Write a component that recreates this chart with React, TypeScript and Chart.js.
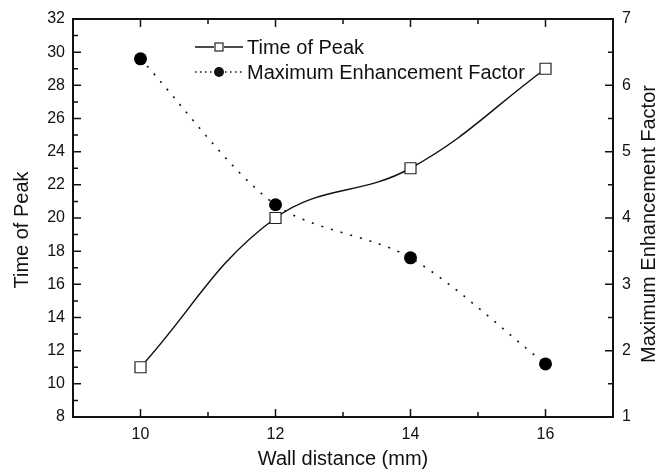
import React, { useEffect, useRef } from 'react';
import { Chart, registerables } from 'chart.js';

Chart.register(...registerables);

const wallDistance = [10, 12, 14, 16];
const timeOfPeak = [11, 20, 23, 29];
const maxEnhancement = [6.4, 4.2, 3.4, 1.8];

const xTicks = [10, 12, 14, 16];
const xMinorTicks = [11, 13, 15];
const leftTicks = [8, 10, 12, 14, 16, 18, 20, 22, 24, 26, 28, 30, 32];
const rightTicks = [1, 2, 3, 4, 5, 6, 7];

const seriesNames = ['Time of Peak', 'Maximum Enhancement Factor'];
const xTitle = 'Wall distance (mm)';
const leftTitle = 'Time of Peak';
const rightTitle = 'Maximum Enhancement Factor';

const FONT = "'Liberation Sans', Arial, Helvetica, sans-serif";
const INK = '#111111';

const decorPlugin = {
  id: 'decor',
  afterDraw(chart: any) {
    const { ctx, chartArea } = chart;
    const { left, right, top, bottom } = chartArea;
    const xs = chart.scales.x;
    const yl = chart.scales.y;
    const yr = chart.scales.y1;
    ctx.save();
    ctx.strokeStyle = INK;
    ctx.lineWidth = 2;
    ctx.setLineDash([]);
    ctx.strokeRect(left, top, right - left, bottom - top);

    const MAJ = 8;
    const MIN = 5;
    ctx.lineWidth = 1.5;
    ctx.beginPath();
    const vtick = (v: number, len: number) => {
      const px = xs.getPixelForValue(v);
      ctx.moveTo(px, bottom);
      ctx.lineTo(px, bottom - len);
      ctx.moveTo(px, top);
      ctx.lineTo(px, top + len);
    };
    xTicks.forEach((v) => vtick(v, MAJ));
    xMinorTicks.forEach((v) => vtick(v, MIN));

    const mids = (arr: number[]) => arr.slice(1).map((v, i) => (v + arr[i]) / 2);
    leftTicks.forEach((v) => {
      const py = yl.getPixelForValue(v);
      ctx.moveTo(left, py);
      ctx.lineTo(left + MAJ, py);
    });
    mids(leftTicks).forEach((v) => {
      const py = yl.getPixelForValue(v);
      ctx.moveTo(left, py);
      ctx.lineTo(left + MIN, py);
    });
    rightTicks.forEach((v) => {
      const py = yr.getPixelForValue(v);
      ctx.moveTo(right, py);
      ctx.lineTo(right - MAJ, py);
    });
    mids(rightTicks).forEach((v) => {
      const py = yr.getPixelForValue(v);
      ctx.moveTo(right, py);
      ctx.lineTo(right - MIN, py);
    });
    ctx.stroke();

    // vertical axis titles (read bottom to top)
    ctx.fillStyle = INK;
    ctx.font = `20px ${FONT}`;
    ctx.textAlign = 'center';
    ctx.textBaseline = 'alphabetic';
    ctx.save();
    ctx.translate(28, (top + bottom) / 2 + 12);
    ctx.rotate(-Math.PI / 2);
    ctx.fillText(leftTitle, 0, 0);
    ctx.restore();
    ctx.save();
    ctx.translate(655, (top + bottom) / 2 + 6);
    ctx.rotate(-Math.PI / 2);
    ctx.fillText(rightTitle, 0, 0);
    ctx.restore();

    // legend
    const lx0 = left + 122;
    const lx1 = left + 170;
    const lmid = (lx0 + lx1) / 2;
    const row1 = top + 28;
    const row2 = top + 53;
    ctx.lineWidth = 1.3;
    ctx.beginPath();
    ctx.moveTo(lx0, row1);
    ctx.lineTo(lmid - 5, row1);
    ctx.moveTo(lmid + 5, row1);
    ctx.lineTo(lx1, row1);
    ctx.stroke();
    ctx.fillStyle = '#ffffff';
    ctx.lineWidth = 1.1;
    ctx.fillRect(lmid - 4, row1 - 4, 8, 8);
    ctx.strokeRect(lmid - 4, row1 - 4, 8, 8);

    ctx.lineWidth = 1.5;
    ctx.setLineDash([1.5, 3.5]);
    ctx.beginPath();
    ctx.moveTo(lx0, row2);
    ctx.lineTo(lx1, row2);
    ctx.stroke();
    ctx.setLineDash([]);
    ctx.fillStyle = INK;
    ctx.beginPath();
    ctx.arc(lmid, row2, 5, 0, Math.PI * 2);
    ctx.fill();

    ctx.fillStyle = INK;
    ctx.font = `20px ${FONT}`;
    ctx.textAlign = 'left';
    ctx.textBaseline = 'middle';
    ctx.fillText(seriesNames[0], lx1 + 4, row1 + 1);
    ctx.fillText(seriesNames[1], lx1 + 4, row2 + 1);
    ctx.restore();
  },
};

export default function App() {
  const ref = useRef<HTMLCanvasElement | null>(null);

  useEffect(() => {
    if (!ref.current) return;
    const chart = new Chart(ref.current, {
      type: 'line',
      data: {
        datasets: [
          {
            label: seriesNames[0],
            data: wallDistance.map((x, i) => ({ x, y: timeOfPeak[i] })),
            yAxisID: 'y',
            borderColor: INK,
            borderWidth: 1.5,
            tension: 0.4,
            pointStyle: 'rect',
            pointRadius: 7.8,
            pointBackgroundColor: '#ffffff',
            pointBorderColor: '#222222',
            pointBorderWidth: 1.2,
            fill: false,
          },
          {
            label: seriesNames[1],
            data: wallDistance.map((x, i) => ({ x, y: maxEnhancement[i] })),
            yAxisID: 'y1',
            borderColor: INK,
            borderWidth: 1.6,
            borderDash: [2, 8],
            tension: 0.3,
            pointStyle: 'circle',
            pointRadius: 6.5,
            pointBackgroundColor: '#000000',
            pointBorderColor: '#000000',
            pointBorderWidth: 0,
            fill: false,
          },
        ],
      } as any,
      options: {
        animation: false,
        responsive: false,
        devicePixelRatio: 1,
        layout: { padding: { top: 19, left: 0, right: 0, bottom: 0 } },
        plugins: {
          legend: { display: false },
          tooltip: { enabled: false },
        },
        scales: {
          x: {
            type: 'linear',
            min: 9,
            max: 17,
            grid: { display: false, drawTicks: false },
            border: { display: false },
            afterBuildTicks: (scale: any) => {
              scale.ticks = xTicks.map((v) => ({ value: v }));
            },
            afterFit: (scale: any) => {
              scale.height = 57;
            },
            ticks: {
              padding: 8,
              color: INK,
              font: { family: FONT, size: 16 },
              maxRotation: 0,
            },
            title: {
              display: true,
              text: xTitle,
              color: INK,
              font: { family: FONT, size: 20 },
              padding: { top: 0, bottom: 3 },
            },
          },
          y: {
            type: 'linear',
            position: 'left',
            min: 8,
            max: 32,
            grid: { display: false, drawTicks: false },
            border: { display: false },
            afterBuildTicks: (scale: any) => {
              scale.ticks = leftTicks.map((v) => ({ value: v }));
            },
            afterFit: (scale: any) => {
              scale.width = 73;
            },
            ticks: {
              padding: 8,
              color: INK,
              font: { family: FONT, size: 16 },
            },
            title: { display: false },
          },
          y1: {
            type: 'linear',
            position: 'right',
            min: 1,
            max: 7,
            grid: { display: false, drawTicks: false, drawOnChartArea: false },
            border: { display: false },
            afterBuildTicks: (scale: any) => {
              scale.ticks = rightTicks.map((v) => ({ value: v }));
            },
            afterFit: (scale: any) => {
              scale.width = 43;
            },
            ticks: {
              padding: 9,
              color: INK,
              font: { family: FONT, size: 16 },
            },
            title: { display: false },
          },
        },
      } as any,
      plugins: [decorPlugin],
    });
    return () => chart.destroy();
  }, []);

  return (
    <div style={{ position: 'fixed', left: 0, top: 0, width: 656, height: 474, background: '#ffffff' }}>
      <canvas ref={ref} width={656} height={474} style={{ width: 656, height: 474, display: 'block' }} />
    </div>
  );
}
